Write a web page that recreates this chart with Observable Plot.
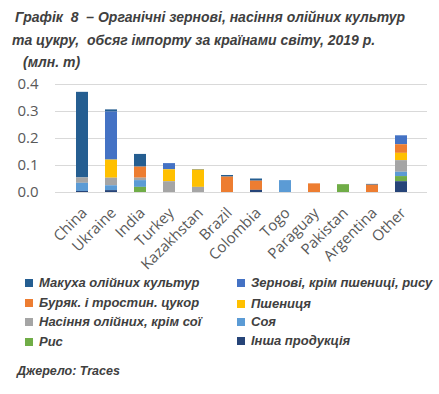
<!DOCTYPE html>
<html>
<head>
<meta charset="utf-8">
<script src="https://cdn.jsdelivr.net/npm/d3@7"></script>
<script src="https://cdn.jsdelivr.net/npm/@observablehq/plot@0.6"></script>
<style>
  body { margin: 0; background: #fff; width: 439px; height: 394px; overflow: hidden; position: relative; }
  .t { position: absolute; font-family: "Liberation Sans", Arial, sans-serif; font-weight: bold; font-style: italic; color: #404040; white-space: nowrap; line-height: 14px; }
  #chart { position: absolute; left: 0; top: 70px; }
  .lg { position: absolute; font-family: "Liberation Sans", Arial, sans-serif; font-weight: bold; font-style: italic; color: #404040; font-size: 13px; line-height: 14px; white-space: nowrap; }
  .sw { display: inline-block; width: 8px; height: 8px; margin-right: 6px; vertical-align: 0px; }
</style>
</head>
<body>
<div class="t" style="left:15px;top:10px;font-size:14px;">Графік&nbsp; 8 &nbsp;– Органічні зернові, насіння олійних культур</div>
<div class="t" style="left:12px;top:33px;font-size:14px;">та цукру,&nbsp; обсяг імпорту за країнами світу, 2019 р.</div>
<div class="t" style="left:23px;top:55px;font-size:14px;">(млн. т)</div>
<div id="chart"></div>
<div id="legend"></div>
<div class="t" style="left:17px;top:364px;font-size:12.5px;">Джерело: Traces</div>
<script>
const countries = ["China","Ukraine","India","Turkey","Kazakhstan","Brazil","Colombia","Togo","Paraguay","Pakistan","Argentina","Other"];
const seriesNames = ["Макуха олійних культур","Зернові, крім пшениці, рису","Буряк. і тростин. цукор","Пшениця","Насіння олійних, крім сої","Соя","Рис","Інша продукція"];
const seriesColors = ["#255E91","#4472C4","#ED7D31","#FFC000","#A5A5A5","#5B9BD5","#70AD47","#264478"];
const makukha  = [0.317,0.008,0.047,0,    0.002,0.006,0.008,0,    0,    0,    0.003,0];
const zernovi  = [0,    0.178,0,    0.023,0,    0,    0,    0,    0,    0,    0,    0.033];
const tsukor   = [0,    0,    0.041,0,    0,    0.057,0.034,0,    0.032,0,    0.027,0.032];
const pshenytsia=[0,    0.067,0,    0.044,0.064,0,    0,    0,    0,    0,    0,    0.027];
const nasinnia = [0.020,0.028,0.009,0.040,0.019,0,    0,    0,    0,    0,    0,    0.043];
const soia     = [0.030,0.018,0.025,0,    0,    0,    0,    0.044,0,    0,    0,    0.016];
const rys      = [0,    0,    0.019,0,    0,    0,    0,    0,    0,    0.029,0,    0.019];
const insha    = [0.004,0.007,0,    0,    0,    0,    0.008,0,    0,    0,    0,    0.040];
const yTicks = [0, 0.1, 0.2, 0.3, 0.4];

const seriesValues = [makukha, zernovi, tsukor, pshenytsia, nasinnia, soia, rys, insha];
const data = [];
seriesNames.forEach((s, i) => countries.forEach((c, j) => data.push({country: c, series: s, value: seriesValues[i][j]})));
const stackOrder = seriesNames.slice().reverse(); // bottom first

const chart = Plot.plot({
  width: 439,
  height: 215,
  marginLeft: 55,
  marginRight: 12,
  marginTop: 14,
  marginBottom: 93,
  style: {fontFamily: "'Open Sans', sans-serif", fontSize: "13px", color: "#595959", background: "transparent"},
  x: {domain: countries, padding: 0.6, label: null},
  y: {domain: [0, 0.4], label: null},
  color: {domain: seriesNames, range: seriesColors},
  marks: [
    Plot.gridY(yTicks, {stroke: "#d9d9d9", strokeOpacity: 1, strokeWidth: 1}),
    Plot.barY(data, {x: "country", y: "value", fill: "series", order: stackOrder}),
    Plot.axisY({ticks: yTicks, tickFormat: d3.format(".1f"), tickSize: 0, tickPadding: 17, fontSize: 15, label: null}),
    Plot.axisX({tickSize: 0, tickRotate: -45, tickPadding: 18, fontSize: 15, label: null, dx: 2})
  ]
});
document.getElementById("chart").appendChild(chart);

const legend = document.getElementById("legend");
const pos = [[25,276],[237,276],[25,296],[237,297],[25,315],[237,315],[25,335],[237,334]];
seriesNames.forEach((s, i) => {
  const d = document.createElement("div");
  d.className = "lg";
  d.style.left = pos[i][0] + "px";
  d.style.top = pos[i][1] + "px";
  d.innerHTML = `<span class="sw" style="background:${seriesColors[i]}"></span>${s}`;
  legend.appendChild(d);
});
</script>
</body>
</html>
